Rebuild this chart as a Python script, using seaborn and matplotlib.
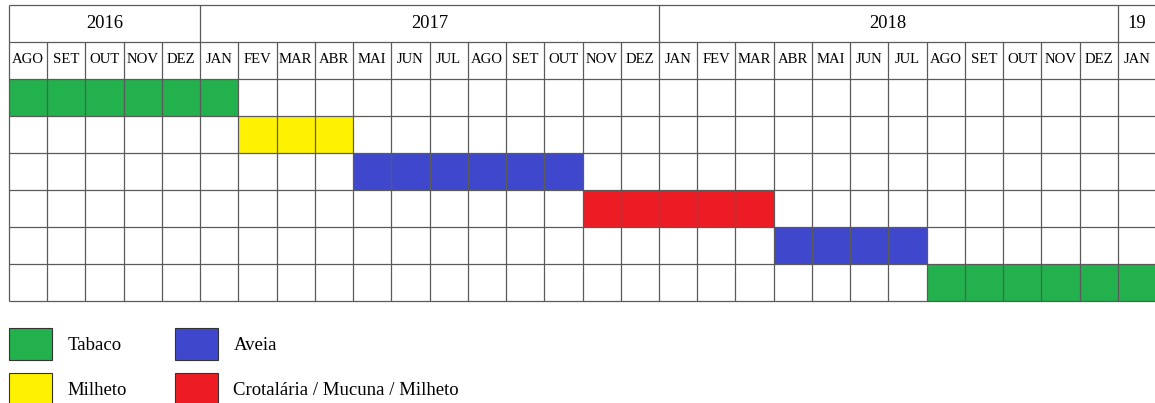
import numpy as np
import pandas as pd
import matplotlib
matplotlib.use('Agg')
import matplotlib.pyplot as plt
from matplotlib.colors import ListedColormap
from matplotlib.patches import Patch
import seaborn as sns

plt.rcParams['font.family'] = ['Liberation Serif', 'DejaVu Serif']

# 월 / 연도 헤더
months = ['AGO', 'SET', 'OUT', 'NOV', 'DEZ',
          'JAN', 'FEV', 'MAR', 'ABR', 'MAI', 'JUN', 'JUL', 'AGO', 'SET', 'OUT', 'NOV', 'DEZ',
          'JAN', 'FEV', 'MAR', 'ABR', 'MAI', 'JUN', 'JUL', 'AGO', 'SET', 'OUT', 'NOV', 'DEZ',
          'JAN']
years = ['2016', '2017', '2018', '19']
year_spans = [5, 12, 12, 1]

# 작물 / 색상
crops = ['Tabaco', 'Milheto', 'Aveia', 'Crotalária / Mucuna / Milheto']
crop_colors = ['#22B14C', '#FFF200', '#3F48CC', '#ED1C24']

# 각 행: 작물, 시작 월 인덱스, 끝 월 인덱스
row_crop = ['Tabaco', 'Milheto', 'Aveia', 'Crotalária / Mucuna / Milheto', 'Aveia', 'Tabaco']
row_start = [0, 6, 9, 15, 20, 24]
row_end = [5, 8, 14, 19, 23, 29]

# 행렬 만들기 (0 = 빈칸)
grid = np.zeros((len(row_crop), len(months)))
for r, (c, s, e) in enumerate(zip(row_crop, row_start, row_end)):
    grid[r, s:e + 1] = crops.index(c) + 1
df = pd.DataFrame(grid, columns=range(len(months)))

W, H = 1155, 403
fig = plt.figure(figsize=(W / 100, H / 100), dpi=100)
ax = fig.add_axes([9 / W, 1 - 301 / H, 1147 / W, 296 / H])

cmap = ListedColormap(['white'] + crop_colors)
line_c = '#5a5a5a'
sns.heatmap(df, ax=ax, cmap=cmap, vmin=-0.5, vmax=4.5, cbar=False,
            linewidths=0, xticklabels=False, yticklabels=False)
ax.set_xlim(0, len(months))
ax.set_ylim(len(row_crop), -2)
ax.set_xlabel('')
ax.set_ylabel('')

# 표 그리드
n = len(months)
nr = len(row_crop)
bounds = np.concatenate([[0], np.cumsum(year_spans)])
kw = dict(color=line_c, lw=0.9, clip_on=False, zorder=5)
ax.hlines(np.arange(-2, nr + 1), 0, n, **kw)
ax.vlines(np.arange(n + 1), -1, nr, **kw)
ax.vlines(bounds, -2, -1, **kw)

for i, m in enumerate(months):
    ax.text(i + 0.5, -0.54, m, ha='center', va='center', fontsize=10.6, color='black')
for y, a, b in zip(years, bounds[:-1], bounds[1:]):
    ax.text((a + b) / 2, -1.5, y, ha='center', va='center', fontsize=13.3, color='black')

# 범례
handles = [Patch(facecolor=col, edgecolor='#333333', linewidth=0.8) for col in crop_colors]
fig.legend(handles, crops, loc='upper left', bbox_to_anchor=(9 / W, 1 - 328 / H),
           ncol=2, frameon=False, fontsize=13.5, borderpad=0, borderaxespad=0,
           handlelength=2.3, handleheight=2.25, handletextpad=0.8,
           columnspacing=2.6, labelspacing=0.7)

plt.savefig('out.png', dpi=100)
